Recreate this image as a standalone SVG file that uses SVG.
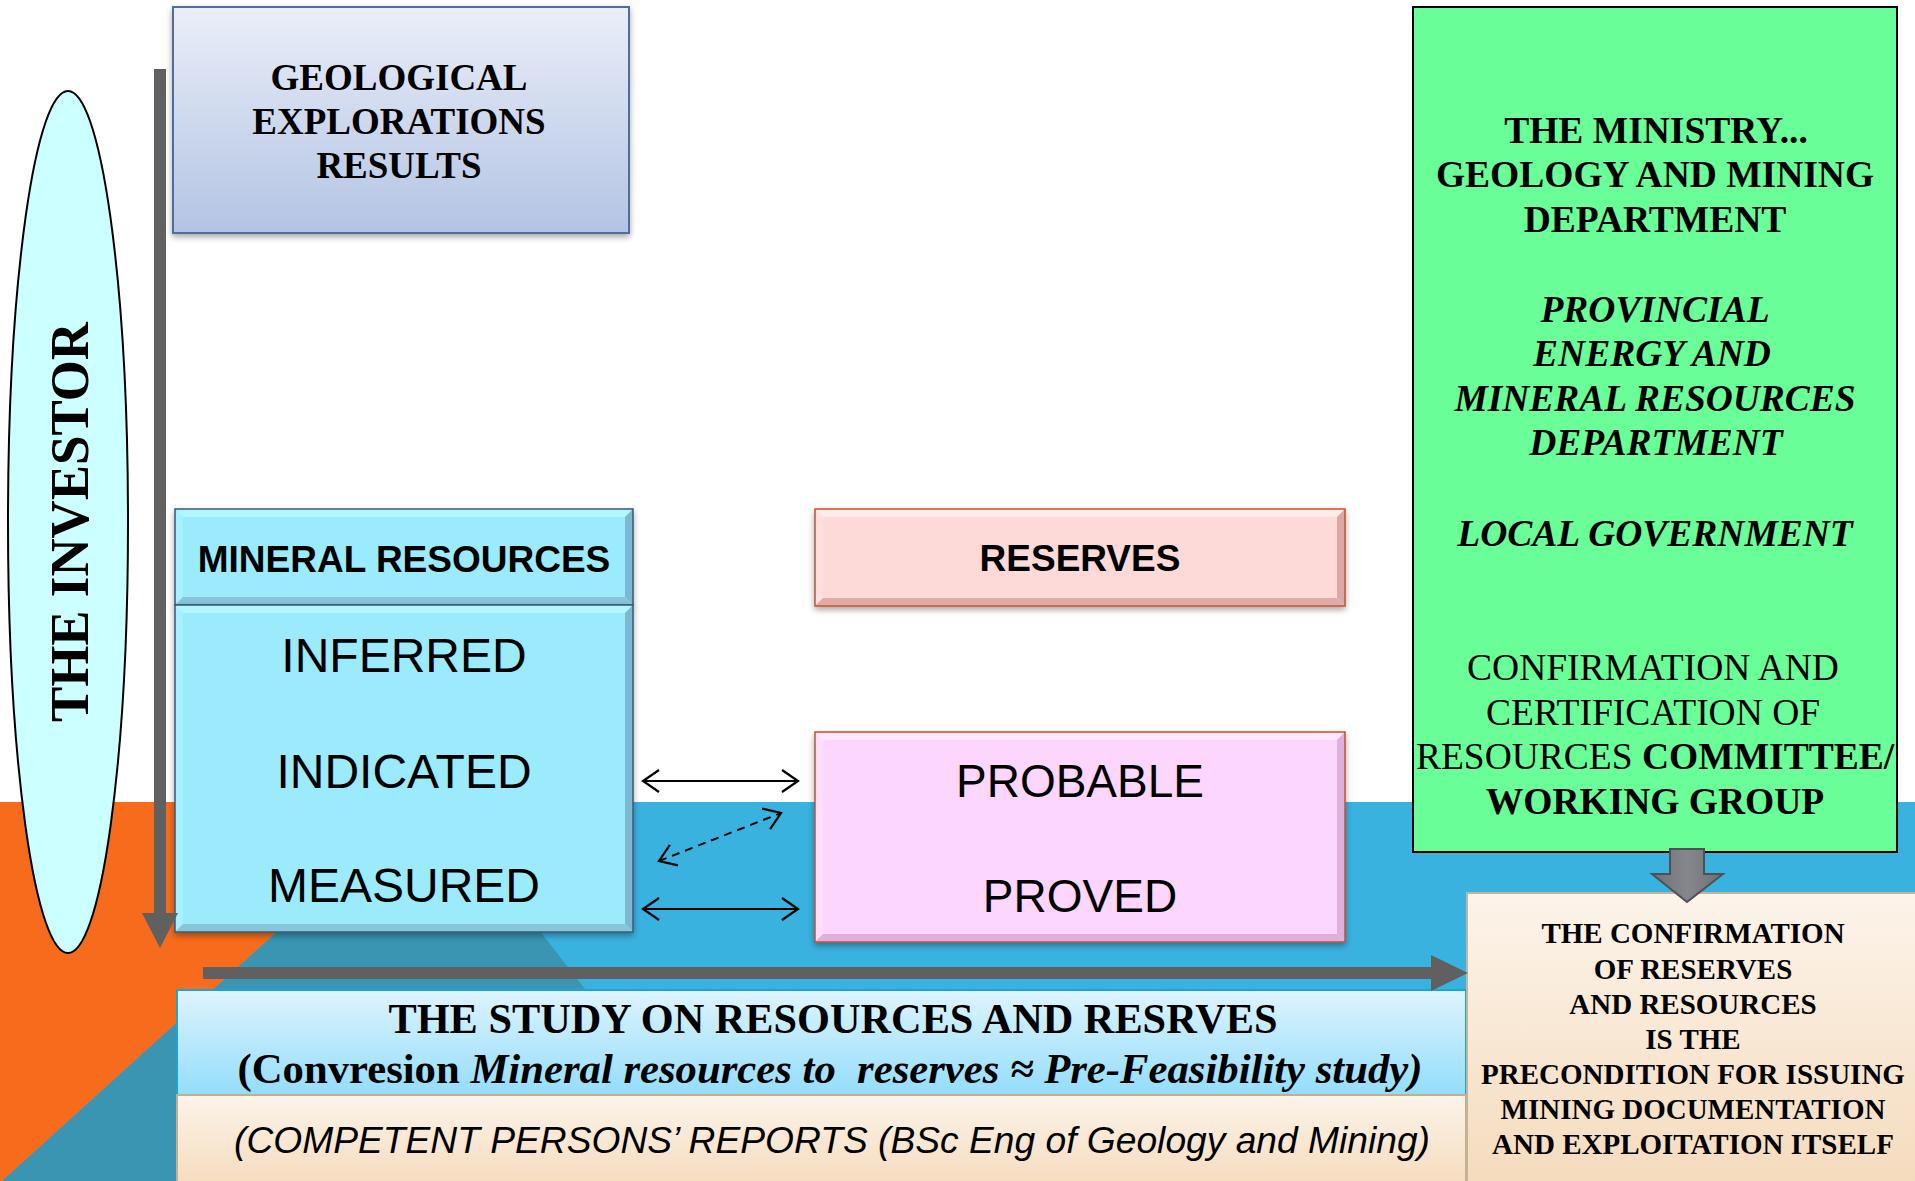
<svg xmlns="http://www.w3.org/2000/svg" width="1915" height="1181" viewBox="0 0 1915 1181">
<style>
.serif{font-family:"Liberation Serif","Times New Roman",serif}
.sans{font-family:"Liberation Sans",Arial,sans-serif}
.b{font-weight:bold}
.i{font-style:italic}
.mid{text-anchor:middle}
.ink{fill:#000}
.gray{fill:#606060}
.thin{fill:none;stroke:#000;stroke-width:2}
.mr-base{fill:#9BEBFC}.mr-top{fill:#B2F6FF}.mr-left{fill:#A6F1FE}.mr-right{fill:#7DB8D2}.mr-bot{fill:#87C5DB}
.mr-edge{fill:none;stroke:#3A5874;stroke-width:1.5}
.rs-base{fill:#FDD9D7}.rs-top{fill:#FEEBEA}.rs-left{fill:#FEE1DF}.rs-right{fill:#DBA8A5}.rs-bot{fill:#E2AAA6}
.pr-base{fill:#FCD6FC}.pr-top{fill:#FEE8FE}.pr-left{fill:#FDDEFD}.pr-right{fill:#DDB0DE}.pr-bot{fill:#E0AEDC}
.red-edge{fill:none;stroke:#C4512E;stroke-width:1.5}
</style>
<defs>
<linearGradient id="geoGrad" x1="0" y1="0" x2="0" y2="1"><stop offset="0" stop-color="#EAEEF9"/><stop offset="1" stop-color="#B3C4E3"/></linearGradient>
<linearGradient id="studyGrad" x1="0" y1="0" x2="0" y2="1"><stop offset="0" stop-color="#DFF4FD"/><stop offset="1" stop-color="#93DDFB"/></linearGradient>
<linearGradient id="beigeGrad" x1="0" y1="0" x2="0" y2="1"><stop offset="0" stop-color="#FCF4EA"/><stop offset="1" stop-color="#F5DBBD"/></linearGradient>
<linearGradient id="blockGrad" x1="0" y1="0" x2="1" y2="0"><stop offset="0" stop-color="#6E7075"/><stop offset="0.5" stop-color="#85878C"/><stop offset="1" stop-color="#6E7075"/></linearGradient>
<filter id="shadow" x="-5%" y="-5%" width="110%" height="120%"><feDropShadow dx="0" dy="3" stdDeviation="3" flood-color="#000" flood-opacity="0.35"/></filter>
<marker id="open" viewBox="0 0 20 24" refX="18" refY="12" markerWidth="20" markerHeight="24" markerUnits="userSpaceOnUse" orient="auto-start-reverse"><path d="M2,1 L18,12 L2,23" fill="none" stroke="#000" stroke-width="2.2"/></marker>
</defs>

<g id="background">
<rect x="0" y="0" width="1915" height="1181" fill="#FFFFFF"/>
<rect x="0" y="802" width="1915" height="379" fill="#3AB2DF"/>
<polygon points="0,802 420,802 0,1183" fill="#F76B1D"/>
<polygon points="420,802 439,802 735,1181 0,1181 0,1183" fill="#3995B1"/>
</g>

<g id="geological" filter="url(#shadow)">
<rect x="173" y="7" width="456" height="226" fill="url(#geoGrad)" stroke="#4F6E9E" stroke-width="2"/>
</g>
<g id="geological-text" class="serif b ink mid" font-size="37">
<text x="399" y="90">GEOLOGICAL</text>
<text x="399" y="134">EXPLORATIONS</text>
<text x="399" y="178">RESULTS</text>
</g>

<g id="investor">
<ellipse cx="68" cy="522" rx="60" ry="431" fill="#CCFFFF" stroke="#000" stroke-width="2"/>
<text class="serif b ink mid" font-size="54" transform="translate(88,522) rotate(-90)" textLength="400" lengthAdjust="spacingAndGlyphs">THE INVESTOR</text>
</g>

<g id="mineral-resources" filter="url(#shadow)">
<rect class="mr-base" x="175" y="509" width="458" height="96"/>
<polygon class="mr-top" points="175,509 633,509 625,517 183,517"/>
<polygon class="mr-left" points="175,509 183,517 183,597 175,605"/>
<polygon class="mr-right" points="633,509 633,605 625,597 625,517"/>
<polygon class="mr-bot" points="175,605 183,597 625,597 633,605"/>
<rect class="mr-edge" x="175" y="509" width="458" height="96"/>
</g>
<text class="sans b ink mid" font-size="37" x="404" y="572">MINERAL RESOURCES</text>

<g id="mineral-categories" filter="url(#shadow)">
<rect class="mr-base" x="175" y="605" width="458" height="327"/>
<polygon class="mr-top" points="175,605 633,605 625,613 183,613"/>
<polygon class="mr-left" points="175,605 183,613 183,924 175,932"/>
<polygon class="mr-right" points="633,605 633,932 625,924 625,613"/>
<polygon class="mr-bot" points="175,932 183,924 625,924 633,932"/>
<rect class="mr-edge" x="175" y="605" width="458" height="327"/>
</g>
<g class="sans ink mid" font-size="48">
<text x="404" y="672">INFERRED</text>
<text x="404" y="788">INDICATED</text>
<text x="404" y="902">MEASURED</text>
</g>

<g id="reserves" filter="url(#shadow)">
<rect class="rs-base" x="815" y="509" width="530" height="97"/>
<polygon class="rs-top" points="815,509 1345,509 1337,517 823,517"/>
<polygon class="rs-left" points="815,509 823,517 823,598 815,606"/>
<polygon class="rs-right" points="1345,509 1345,606 1337,598 1337,517"/>
<polygon class="rs-bot" points="815,606 823,598 1337,598 1345,606"/>
<rect class="red-edge" x="815" y="509" width="530" height="97"/>
</g>
<text class="sans b ink mid" font-size="37" x="1080" y="571">RESERVES</text>

<g id="reserve-categories" filter="url(#shadow)">
<rect class="pr-base" x="815" y="732" width="530" height="210"/>
<polygon class="pr-top" points="815,732 1345,732 1337,740 823,740"/>
<polygon class="pr-left" points="815,732 823,740 823,934 815,942"/>
<polygon class="pr-right" points="1345,732 1345,942 1337,934 1337,740"/>
<polygon class="pr-bot" points="815,942 823,934 1337,934 1345,942"/>
<rect class="red-edge" x="815" y="732" width="530" height="210"/>
</g>
<g class="sans ink mid" font-size="46">
<text x="1080" y="797">PROBABLE</text>
<text x="1080" y="912">PROVED</text>
</g>

<g id="study">
<rect x="177" y="990" width="1289" height="105" fill="url(#studyGrad)" stroke="#1BA4DC" stroke-width="2"/>
<rect x="177" y="1095" width="1289" height="92" fill="url(#beigeGrad)" stroke="#C4AE8E" stroke-width="2"/>
<text class="serif b ink mid" font-size="42" x="833" y="1033" textLength="889" lengthAdjust="spacingAndGlyphs">THE STUDY ON RESOURCES AND RESRVES</text>
<text class="serif b ink mid" font-size="42" x="830" y="1083" textLength="1185" lengthAdjust="spacingAndGlyphs" xml:space="preserve">(Convresion <tspan class="i">Mineral resources to  reserves ≈ Pre-Feasibility study)</tspan></text>
<text class="sans i ink mid" font-size="37" x="832" y="1153" textLength="1196" lengthAdjust="spacingAndGlyphs">(COMPETENT PERSONS’ REPORTS (BSc Eng of Geology and Mining)</text>
</g>

<g id="ministry">
<rect x="1413" y="7" width="484" height="845" fill="#6AFE98" stroke="#000" stroke-width="2"/>
<g class="serif ink mid" font-size="37.5">
<text class="b" x="1656" y="143">THE MINISTRY...</text>
<text class="b" x="1655" y="187">GEOLOGY AND MINING</text>
<text class="b" x="1655" y="232">DEPARTMENT</text>
<text class="b i" x="1655" y="322">PROVINCIAL</text>
<text class="b i" x="1652" y="366">ENERGY AND</text>
<text class="b i" x="1655" y="411" textLength="401" lengthAdjust="spacingAndGlyphs">MINERAL RESOURCES</text>
<text class="b i" x="1656" y="455">DEPARTMENT</text>
<text class="b i" x="1655" y="546">LOCAL GOVERNMENT</text>
<text x="1653" y="680">CONFIRMATION AND</text>
<text x="1653" y="725">CERTIFICATION OF</text>
<text x="1655" y="769">RESOURCES <tspan class="b">COMMITTEE/</tspan></text>
<text class="b" x="1655" y="814">WORKING GROUP</text>
</g>
</g>

<g id="confirmation">
<rect x="1467" y="893" width="455" height="294" fill="url(#beigeGrad)" stroke="#C4B49A" stroke-width="2"/>
<g class="serif b ink mid" font-size="29">
<text x="1693" y="943">THE CONFIRMATION</text>
<text x="1693" y="979">OF RESERVES</text>
<text x="1693" y="1014">AND RESOURCES</text>
<text x="1693" y="1049">IS THE</text>
<text x="1693" y="1084">PRECONDITION FOR ISSUING</text>
<text x="1693" y="1119">MINING DOCUMENTATION</text>
<text x="1693" y="1154">AND EXPLOITATION ITSELF</text>
</g>
</g>

<g id="connectors">
<path class="gray" d="M154,69 H166 V913 H178 L160,948 L142,913 H154 Z"/>
<path class="gray" d="M203,967 H1431 V955 L1468,973 L1431,991 V979 H203 Z"/>
<line class="thin" x1="643" y1="781" x2="798" y2="781" marker-start="url(#open)" marker-end="url(#open)"/>
<line class="thin" x1="643" y1="909" x2="798" y2="909" marker-start="url(#open)" marker-end="url(#open)"/>
<line class="thin" x1="659" y1="861" x2="781" y2="813" stroke-dasharray="8,6" marker-start="url(#open)" marker-end="url(#open)"/>
<path d="M1670,849 H1704 V874 H1723 L1687,902 L1652,874 H1670 Z" fill="url(#blockGrad)" stroke="#4E5055" stroke-width="2"/>
</g>
</svg>
